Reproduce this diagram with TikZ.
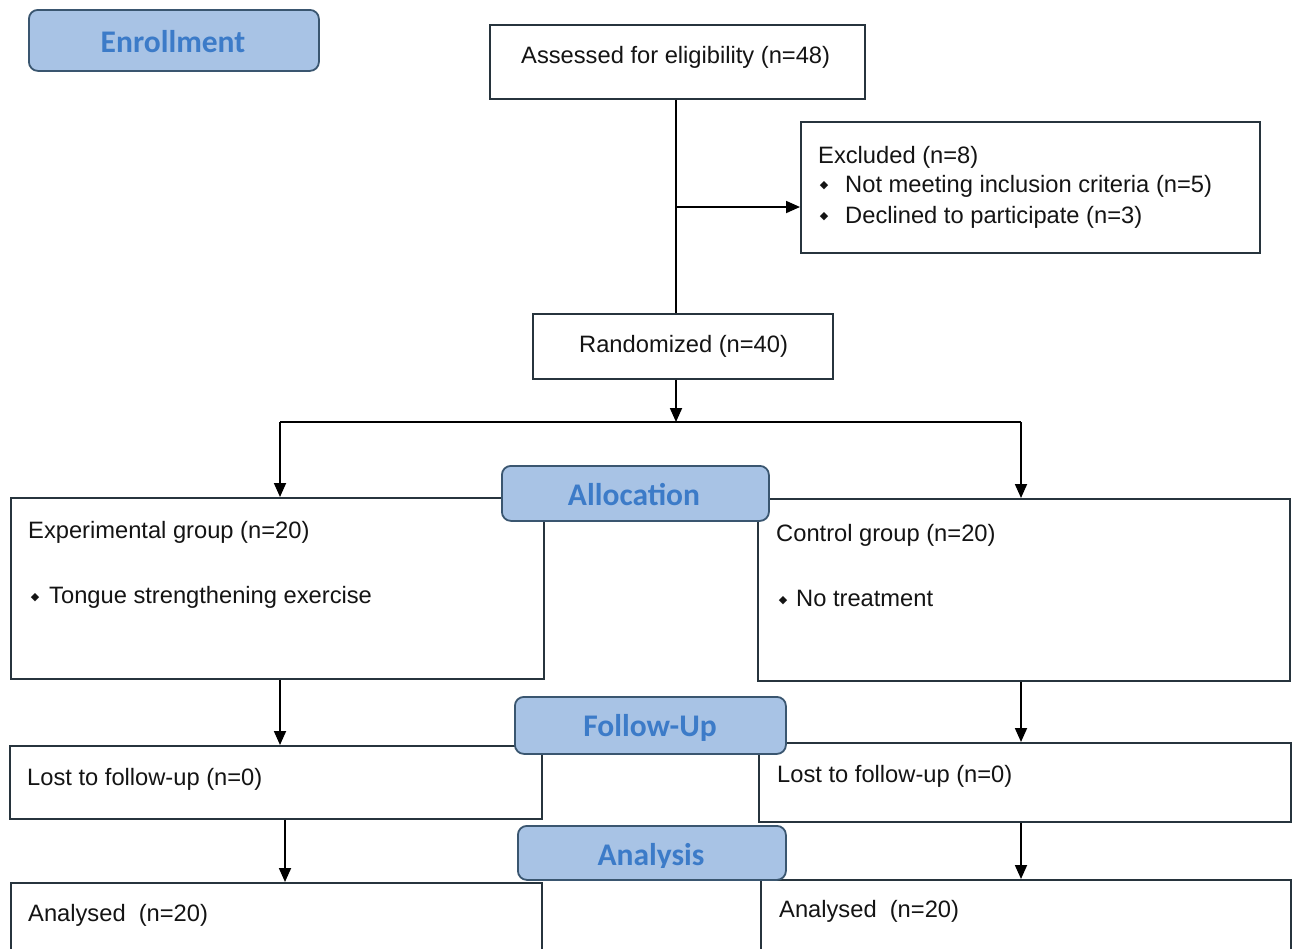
\documentclass[tikz,border=0pt]{standalone}
\usepackage{fontspec}
\setmainfont{Liberation Sans}
\newfontfamily\carlitofam{Carlito}
\newfontfamily\dejavufam{DejaVu Sans}
\usetikzlibrary{arrows.meta}
\definecolor{boxline}{HTML}{27343D}
\definecolor{headfill}{HTML}{A8C3E5}
\definecolor{headline}{HTML}{3A5670}
\definecolor{headtext}{HTML}{3C7BC8}
\definecolor{txtcol}{HTML}{141414}
\newcommand\mytxtfont{\fontsize{23.7}{28}\selectfont}
\newcommand\myheadfont{\carlitofam\bfseries\fontsize{31.5}{36}\selectfont}
\newcommand\mybulfont{\dejavufam\fontsize{11}{11}\selectfont}
\tikzset{
 box/.style={draw=boxline, line width=1.6pt, fill=white, inner sep=0pt, anchor=north west, rectangle},
 head/.style={draw=headline, line width=1.8pt, fill=headfill, rounded corners=9pt, inner sep=0pt, anchor=north west, rectangle},
 txt/.style={anchor=base west, inner sep=0pt, font=\mytxtfont, text=txtcol},
 htxt/.style={anchor=base, inner sep=0pt, font=\myheadfont, text=headtext},
 bul/.style={anchor=center, inner sep=0pt, font=\mybulfont, text=txtcol},
 arr/.style={line width=1.8pt, draw=black, -{Triangle[length=14pt,width=12pt]}},
 ln/.style={line width=1.8pt, draw=black},
}
\begin{document}
\begin{tikzpicture}[x=1pt,y=-1pt]
\clip (0,0) rectangle (1292,948);
\fill[white] (0,0) rectangle (1292,948);
% content boxes
\node[box, minimum width=375pt, minimum height=74pt] (assess) at (489,24) {};
\node[box, minimum width=459pt, minimum height=131pt] (excl) at (800,121) {};
\node[box, minimum width=300pt, minimum height=65pt] (rand) at (532,313) {};
\node[box, minimum width=533pt, minimum height=181pt] (exp) at (10,497) {};
\node[box, minimum width=532pt, minimum height=182pt] (ctrl) at (757,498) {};
\node[box, minimum width=532pt, minimum height=73pt] (lostL) at (9,745) {};
\node[box, minimum width=532pt, minimum height=79pt] (lostR) at (758,742) {};
\node[box, minimum width=531pt, minimum height=90pt] (anaL) at (10,882) {};
\node[box, minimum width=530pt, minimum height=90pt] (anaR) at (760,879) {};
% texts
\node[txt] (tassess) at (521,63) {Assessed for eligibility (n=48)};
\node[txt] (texcl) at (818,163) {Excluded (n=8)};
\node[bul] (b1) at (824,186) {◆};
\node[txt] (texcla) at (845,192) {Not meeting inclusion criteria (n=5)};
\node[bul] (b2) at (824,217) {◆};
\node[txt] (texclb) at (845,223) {Declined to participate (n=3)};
\node[txt] (trand) at (579,352) {Randomized (n=40)};
\node[txt] (texp) at (28,538) {Experimental group (n=20)};
\node[bul] (b3) at (35,598) {◆};
\node[txt] (texpb) at (49,603) {Tongue strengthening exercise};
\node[txt] (tctrl) at (776,541) {Control group (n=20)};
\node[bul] (b4) at (783,601) {◆};
\node[txt] (tctrlb) at (796,606) {No treatment};
\node[txt] (tlostL) at (27,785) {Lost to follow-up (n=0)};
\node[txt] (tlostR) at (777,782) {Lost to follow-up (n=0)};
\node[txt] (tanaL) at (28,921) {Analysed\ \ (n=20)};
\node[txt] (tanaR) at (779,917) {Analysed\ \ (n=20)};
% connectors
\coordinate (j1) at (676,207);
\coordinate (split) at (676,422);
\coordinate (eL) at (280,422);
\coordinate (eR) at (1021,422);
\coordinate (aL) at (285,818);
\draw[ln] (j1 |- assess.south) -- (j1 |- rand.north);
\draw[arr] (j1) -- (j1 -| excl.west);
\draw[arr] (split |- rand.south) -- (split);
\draw[ln] (eL) -- (eR);
\draw[arr] (eL) -- (eL |- exp.north);
\draw[arr] (eR) -- (eR |- ctrl.north);
\draw[arr] (eL |- exp.south) -- (eL |- lostL.north);
\draw[arr] (eR |- ctrl.south) -- (eR |- lostR.north);
\draw[arr] (aL |- lostL.south) -- (aL |- anaL.north);
\draw[arr] (eR |- lostR.south) -- (eR |- anaR.north);
% headings
\node[head, minimum width=290pt, minimum height=61pt] (enroll) at (28,9) {};
\node[htxt] (tenroll) at (173,52) {Enrollment};
\node[head, minimum width=267pt, minimum height=55pt] (alloc) at (501,465) {};
\node[htxt] (talloc) at (634,505) {Allocation};
\node[head, minimum width=271pt, minimum height=57pt] (follow) at (514,696) {};
\node[htxt] (tfollow) at (650,736) {Follow-Up};
\node[head, minimum width=268pt, minimum height=54pt] (analysis) at (517,825) {};
\begin{scope}
\clip (517,825) rectangle (785,867.5);
\node[htxt] (tanalysis) at (651,865) {Analysis};
\end{scope}
\end{tikzpicture}
\end{document}
